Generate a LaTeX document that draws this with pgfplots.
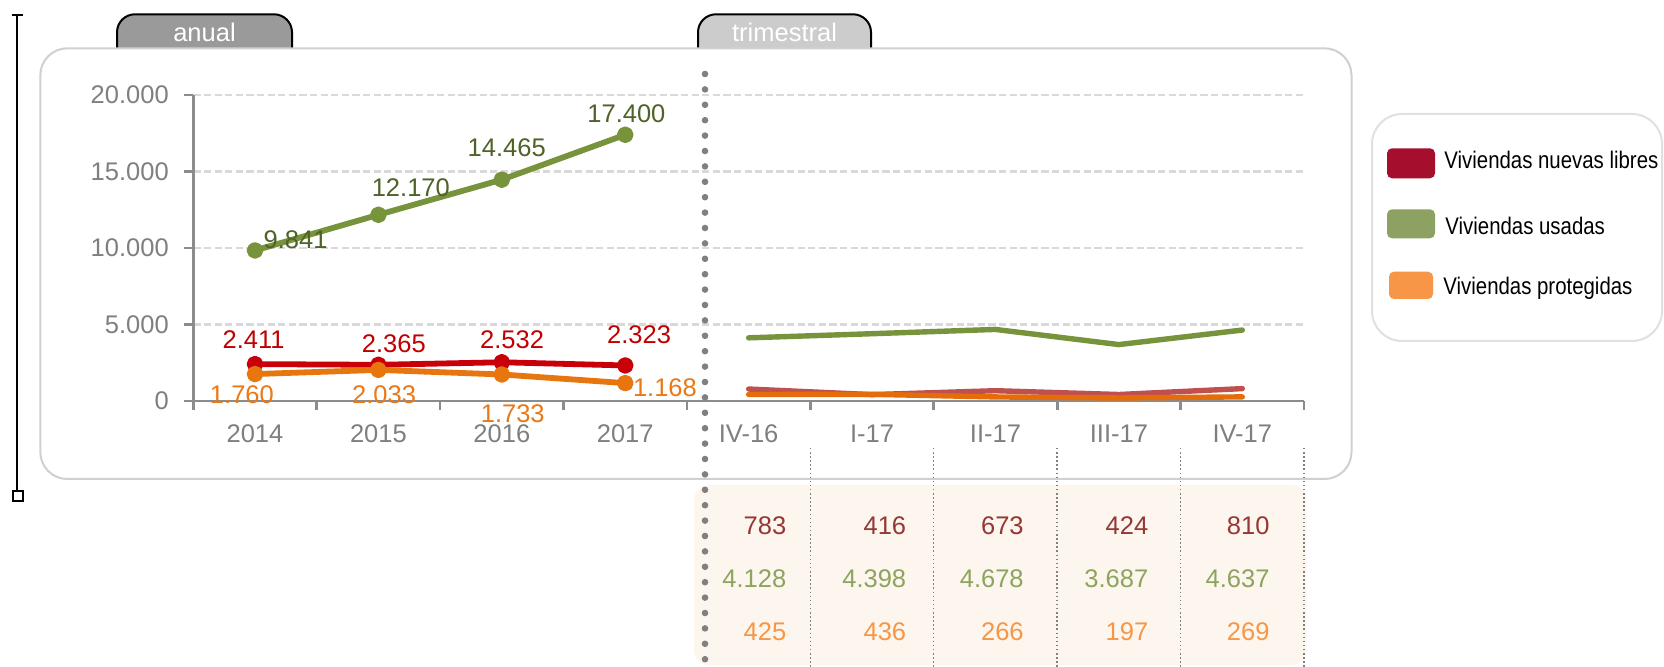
\documentclass[border=0pt]{standalone}
\usepackage{fontspec}
\setmainfont{Liberation Sans}
\newfontfamily\narrowfont{Liberation Sans}[FakeStretch=0.85]
\usepackage{pgfplots}
\pgfplotsset{compat=1.18}
\usepackage{pgfplotstable}

\definecolor{grnline}{HTML}{77933C}
\definecolor{redline}{HTML}{C8000A}
\definecolor{orgline}{HTML}{E8760F}
\definecolor{redq}{HTML}{C0504D}
\definecolor{orgq}{HTML}{E46C0A}
\definecolor{grnlab}{HTML}{4F6228}
\definecolor{redlab}{HTML}{C00000}
\definecolor{orglab}{HTML}{EB7814}
\definecolor{tabred}{HTML}{953735}
\definecolor{tabgrn}{HTML}{8DA45E}
\definecolor{taborg}{HTML}{F79646}
\definecolor{legred}{HTML}{A50E2D}
\definecolor{leggrn}{HTML}{8DA262}
\definecolor{legorg}{HTML}{F79646}
\definecolor{axisgray}{HTML}{8C8C8C}
\definecolor{tickgray}{HTML}{7F7F7F}
\definecolor{gridgray}{HTML}{D9D9D9}
\definecolor{boxgray}{HTML}{D0D0D0}
\definecolor{leggray}{HTML}{E0E0E0}
\definecolor{tabdark}{HTML}{9A9A9A}
\definecolor{tablight}{HTML}{CCCCCC}
\definecolor{cream}{HTML}{FDF6EE}
\definecolor{sepgray}{HTML}{808080}

\newcommand\cf{\fontsize{12.75pt}{15pt}\selectfont}
\newcommand\lf{\narrowfont\fontsize{12pt}{14pt}\selectfont}

% annual data: x, value, label offset (px)
\pgfplotstableread{
x y dx dy
0 9841 40.6 2.1
1 12170 32.4 17.8
2 14465 4.9 22.7
3 17400 1.2 12.1
}\usadasAnual
\pgfplotstableread{
x y dx dy
0 2411 -1.4 15.8
1 2365 15.4 12.1
2 2532 10.3 14.0
3 2323 13.8 22.2
}\libresAnual
\pgfplotstableread{
x y dx dy
0 1760 -13.1 -29.2
1 2033 5.7 -33.4
2 1733 10.9 -48.2
3 1168 39.7 -12.9
}\protegAnual
% quarterly data
\pgfplotstableread{
x lib usa pro dx
4 783 4128 425 38
5 416 4398 436 34.5
6 673 4678 266 28.6
7 424 3687 197 29.8
8 810 4637 269 27.6
}\trimestral

\begin{document}
\begin{tikzpicture}
\useasboundingbox (0,0) rectangle (832pt,-333.5pt);
\begin{scope}[x=0.5pt,y=-0.5pt]
% bracket at left
\draw[black, line width=1pt] (17.3,15) -- (17.3,491);
\draw[black, line width=1.2pt] (11.5,15) -- (23,15);
\draw[black, line width=1pt] (12.8,491) rectangle (22.6,501);
% tabs
\draw[fill=tabdark, draw=black, line width=1pt, rounded corners=9pt] (117,49) -- (117,14.3) -- (292,14.3) -- (292,49);
\node[text=white, font=\cf, anchor=base, inner sep=0pt] at (204.5,41.7) {anual};
\draw[fill=tablight, draw=black, line width=1pt, rounded corners=9pt] (698,49) -- (698,14.3) -- (871,14.3) -- (871,49);
\node[text=white, font=\cf, anchor=base, inner sep=0pt] at (784.5,41.7) {trimestral};
% outer box
\draw[draw=boxgray, line width=1pt, fill=white, rounded corners=13.5pt] (40.3,48.3) rectangle (1351.5,479);
% legend
\draw[draw=leggray, line width=1pt, fill=white, rounded corners=15pt] (1372,114) rectangle (1662,341);
\fill[legred, rounded corners=2.5pt] (1387,148.3) rectangle (1435,178.3);
\fill[leggrn, rounded corners=2.5pt] (1387,209.3) rectangle (1435,238.3);
\fill[legorg, rounded corners=2.5pt] (1389,271.7) rectangle (1433,299);
\node[anchor=base west, inner sep=0pt, font=\lf, text=black] at (1444,168.3) {Viviendas nuevas libres};
\node[anchor=base west, inner sep=0pt, font=\lf, text=black] at (1445,234.3) {Viviendas usadas};
\node[anchor=base west, inner sep=0pt, font=\lf, text=black] at (1443,295) {Viviendas protegidas};
% table background
\fill[cream, rounded corners=7.5pt] (694,485) rectangle (1306.5,665);
\foreach \xx in {810.3,933.7,1057.1,1180.5,1303.9}
  \draw[sepgray, line width=0.75pt, dash pattern=on 0.75pt off 1.3pt] (\xx,448) -- (\xx,667);
\end{scope}

\begin{axis}[
  at={(96.65pt,-200.5pt)}, anchor=south west,
  scale only axis, width=555.35pt, height=153pt,
  xmin=-0.5, xmax=8.5, ymin=0, ymax=20000,
  clip=false,
  axis lines=left,
  axis line style={-, draw=axisgray, line width=1.35pt},
  every outer x axis line/.append style={-},
  every outer y axis line/.append style={-},
  tick align=outside,
  xtick={0,...,8},
  xticklabels={2014,2015,2016,2017,IV-16,I-17,II-17,III-17,IV-17},
  minor xtick={-0.5,0.5,...,8.5},
  major x tick style={draw=none},
  minor x tick style={draw=axisgray, line width=1.35pt},
  minor tick length=4.5pt,
  major tick length=4.5pt,
  ytick={0,5000,10000,15000,20000},
  ytick style={draw=axisgray, line width=1.35pt},
  scaled y ticks=false,
  /pgf/number format/1000 sep={.},
  /pgf/number format/assume math mode=true,
  ymajorgrids=true,
  major grid style={draw=gridgray, line width=1.4pt, dash pattern=on 3.6pt off 1.7pt},
  xticklabel style={font=\cf, text=tickgray, yshift=-3.7pt},
  yticklabel style={font=\cf, text=tickgray, xshift=-4.25pt},
  every axis plot/.append style={line cap=round, line join=round},
]
% annual
\addplot[grnline, line width=2.9pt, mark=*, mark size=2.7pt,
  nodes near coords,
  visualization depends on={\thisrow{dx}\as\dx},
  visualization depends on={\thisrow{dy}\as\dy},
  every node near coord/.style={anchor=base, inner sep=0pt, xshift=\dx*0.5pt, yshift=\dy*0.5pt, text=grnlab, font=\cf}]
  table[x=x,y=y] {\usadasAnual};
\addplot[redline, line width=2.9pt, mark=*, mark size=2.7pt,
  nodes near coords,
  visualization depends on={\thisrow{dx}\as\dx},
  visualization depends on={\thisrow{dy}\as\dy},
  every node near coord/.style={anchor=base, inner sep=0pt, xshift=\dx*0.5pt, yshift=\dy*0.5pt, text=redlab, font=\cf}]
  table[x=x,y=y] {\libresAnual};
\addplot[orgline, line width=2.9pt, mark=*, mark size=2.7pt,
  nodes near coords,
  visualization depends on={\thisrow{dx}\as\dx},
  visualization depends on={\thisrow{dy}\as\dy},
  every node near coord/.style={anchor=base, inner sep=0pt, xshift=\dx*0.5pt, yshift=\dy*0.5pt, text=orglab, font=\cf}]
  table[x=x,y=y] {\protegAnual};
% quarterly
\addplot[grnline, line width=2.7pt, mark=none] table[x=x,y=usa] {\trimestral};
\addplot[redq, line width=2.7pt, mark=none] table[x=x,y=lib] {\trimestral};
\addplot[orgq, line width=2.7pt, mark=none] table[x=x,y=pro] {\trimestral};
% quarterly table below the axis
\addplot[draw=none, mark=none, nodes near coords, point meta=explicit,
  visualization depends on={\thisrow{dx}\as\dx},
  every node near coord/.style={anchor=base east, inner sep=0pt, xshift=\dx*0.5pt, text=tabred, font=\cf}]
  table[x=x, y expr=-8693, meta=lib] {\trimestral};
\addplot[draw=none, mark=none, nodes near coords, point meta=explicit,
  visualization depends on={\thisrow{dx}\as\dx},
  every node near coord/.style={anchor=base east, inner sep=0pt, xshift=\dx*0.5pt, text=tabgrn, font=\cf}]
  table[x=x, y expr=-12157, meta=usa] {\trimestral};
\addplot[draw=none, mark=none, nodes near coords, point meta=explicit,
  visualization depends on={\thisrow{dx}\as\dx},
  every node near coord/.style={anchor=base east, inner sep=0pt, xshift=\dx*0.5pt, text=taborg, font=\cf}]
  table[x=x, y expr=-15686, meta=pro] {\trimestral};
\end{axis}

\begin{scope}[x=0.5pt,y=-0.5pt]
\draw[sepgray, line width=3.3pt, line cap=round, dash pattern=on 0pt off 7.7pt] (705,74) -- (705,672);
\end{scope}
\end{tikzpicture}
\end{document}
